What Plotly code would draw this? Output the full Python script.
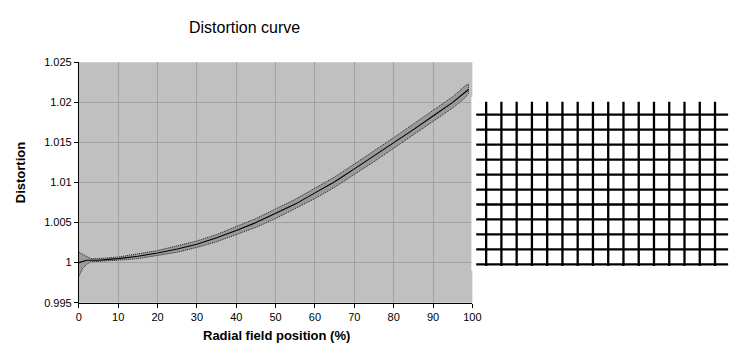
import plotly.graph_objects as go

# ---- Distortion curve data ----
radial_pos = [0, 1, 2, 3, 5, 7.5, 10, 15, 20, 25, 30, 35, 40, 45, 50, 55, 60, 65, 70, 75, 80, 85, 90, 95, 98, 99]
distortion_mean = [1.0000, 1.0002, 1.0003, 1.0003, 1.0003, 1.0004, 1.0005, 1.0008, 1.0012, 1.0017, 1.0023, 1.0031,
                   1.0040, 1.0050, 1.0061, 1.0073, 1.0087, 1.0101, 1.0117, 1.0133, 1.0150, 1.0166, 1.0183, 1.0200,
                   1.0212, 1.0216]
distortion_upper = [1.0013, 1.0010, 1.0007, 1.0005, 1.0005, 1.0006, 1.0007, 1.0011, 1.0015, 1.0021, 1.0027, 1.0035,
                    1.0045, 1.0055, 1.0067, 1.0079, 1.0093, 1.0107, 1.0123, 1.0139, 1.0156, 1.0173, 1.0190, 1.0207,
                    1.0220, 1.0223]
distortion_lower = [0.9983, 0.9993, 0.9998, 1.0001, 1.0001, 1.0002, 1.0003, 1.0005, 1.0009, 1.0013, 1.0019, 1.0026,
                    1.0035, 1.0044, 1.0055, 1.0067, 1.0080, 1.0094, 1.0110, 1.0126, 1.0143, 1.0159, 1.0176, 1.0193,
                    1.0205, 1.0211]

x_ticks = [0, 10, 20, 30, 40, 50, 60, 70, 80, 90, 100]
y_tick_vals = [0.995, 1.0, 1.005, 1.01, 1.015, 1.02, 1.025]
y_tick_text = ["0.995", "1", "1.005", "1.01", "1.015", "1.02", "1.025"]

# ---- Distorted grid image data (column / row indices) ----
grid_cols = list(range(16))
grid_rows = list(range(11))
grid_col_extent = [-0.65, 15.86]   # horizontal line extent in column units
grid_row_extent = [-0.86, 10.11]   # vertical line extent in row units

FONT = "Liberation Sans, Arial, sans-serif"
OFF = 8               # default page body margin
W, H = 746 - OFF, 356 - OFF

fig = go.Figure()

# band (closed polygon)
band_x = radial_pos + radial_pos[::-1]
band_y = distortion_upper + distortion_lower[::-1]
fig.add_trace(go.Scatter(x=band_x, y=band_y, mode="lines", fill="toself",
                         fillcolor="#9a9a9a", line=dict(color="#1e1e1e", width=1, dash="1px,1px"),
                         hoverinfo="skip", showlegend=False, xaxis="x", yaxis="y"))
fig.add_trace(go.Scatter(x=radial_pos, y=distortion_mean, mode="lines",
                         line=dict(color="#000000", width=1.1), showlegend=False,
                         xaxis="x", yaxis="y"))

# grid lines image
hx, hy = [], []
for r in grid_rows:
    hx += [grid_col_extent[0], grid_col_extent[1], None]
    hy += [r, r, None]
vx, vy = [], []
for c in grid_cols:
    vx += [c, c, None]
    vy += [grid_row_extent[0], grid_row_extent[1], None]
fig.add_trace(go.Scatter(x=hx, y=hy, mode="lines", line=dict(color="#000000", width=2.3),
                         showlegend=False, xaxis="x2", yaxis="y2", hoverinfo="skip"))
fig.add_trace(go.Scatter(x=vx, y=vy, mode="lines", line=dict(color="#000000", width=2.3),
                         showlegend=False, xaxis="x2", yaxis="y2", hoverinfo="skip"))

# pixel helpers (reference-image pixel -> paper fraction)
def px_x(p):
    return (p - OFF) / W

def px_y(p):
    return (H - (p - OFF)) / H

# grid image axes mapping: col0 at px 491, 15.51 px per col; row0 at px 112.3, 15.5 px per row
g_left, g_right, g_top, g_bot = 476, 745, 94, 274
x2_range = [(g_left - 491) / 15.51, (g_right - 491) / 15.51]
y2_range = [(g_bot - 112.3) / 15.5, (g_top - 112.3) / 15.5]

fig.update_layout(
    width=W, height=H,
    margin=dict(l=0, r=0, t=0, b=0),
    paper_bgcolor="#ffffff",
    plot_bgcolor="#ffffff",
    font=dict(family=FONT, size=11, color="#000000"),
    xaxis=dict(domain=[px_x(77), px_x(477)], range=[0, 100], tickvals=x_ticks,
               showgrid=True, gridcolor="#a2a2a2", gridwidth=1,
               showline=True, linecolor="#000000", linewidth=1,
               ticks="outside", ticklen=4, tickcolor="#000000",
               zeroline=False, fixedrange=True, anchor="y",
               tickfont=dict(family=FONT, size=11)),
    yaxis=dict(domain=[px_y(307), px_y(58)], range=[0.995, 1.025],
               tickvals=y_tick_vals, ticktext=y_tick_text,
               showgrid=True, gridcolor="#a2a2a2", gridwidth=1,
               showline=True, linecolor="#000000", linewidth=1,
               ticks="outside", ticklen=4, tickcolor="#000000",
               zeroline=False, fixedrange=True, anchor="x",
               tickfont=dict(family=FONT, size=11)),
    xaxis2=dict(domain=[px_x(g_left), min(1.0, px_x(g_right))], range=x2_range, visible=False,
                anchor="y2", fixedrange=True),
    yaxis2=dict(domain=[px_y(g_bot), px_y(g_top)], range=y2_range, visible=False,
                anchor="x2", fixedrange=True),
    shapes=[dict(type="rect", xref="x domain", yref="y domain", x0=0, x1=1, y0=0, y1=1,
                 fillcolor="#c0c0c0", line=dict(width=0), layer="below")],
    annotations=[
        dict(text="Distortion curve", x=px_x(245), y=px_y(22), xref="paper", yref="paper",
             showarrow=False, font=dict(family=FONT, size=16), xanchor="center", yanchor="middle"),
        dict(text="<b>Radial field position (%)</b>", x=px_x(277.5), y=px_y(341), xref="paper", yref="paper",
             showarrow=False, font=dict(family=FONT, size=13), xanchor="center", yanchor="middle"),
        dict(text="<b>Distortion</b>", x=px_x(17), y=px_y(172), xref="paper", yref="paper",
             showarrow=False, font=dict(family=FONT, size=13), textangle=-90,
             xanchor="center", yanchor="middle"),
    ],
)

fig.write_html("out.html")
